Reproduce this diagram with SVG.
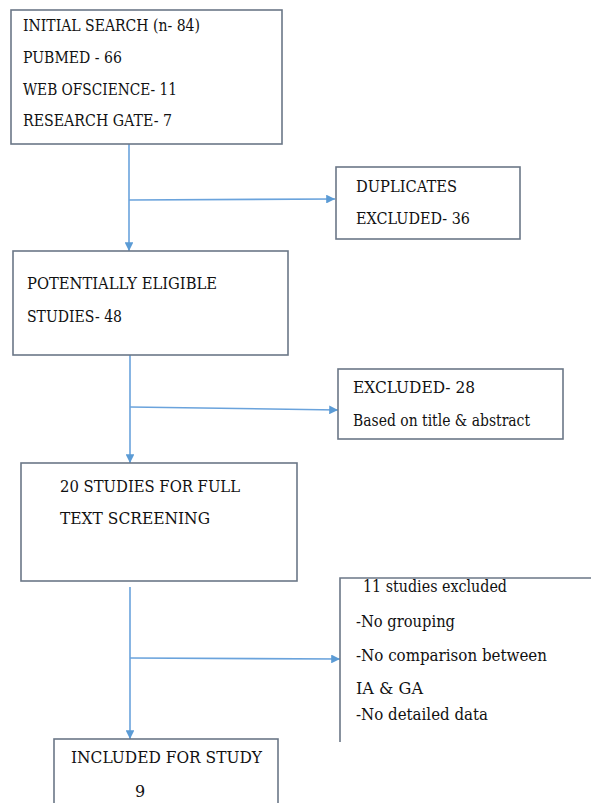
<svg xmlns="http://www.w3.org/2000/svg" width="591" height="803" viewBox="0 0 591 803">
<style>
.box{fill:#fff;stroke:#6b7787;stroke-width:1.6}
text{font-family:'DejaVu Serif','Liberation Serif',serif;font-size:16px;fill:#111}
.c{fill:none;stroke:#6aa3dc;stroke-width:1.6}
</style>
<defs>
<marker id="ah" viewBox="0 0 10 10" refX="10" refY="5" markerWidth="5.5" markerHeight="5.5" orient="auto" markerUnits="strokeWidth">
<path d="M0,0 L10,5 L0,10 z" fill="#5b9bd5"/>
</marker>
</defs>
<rect width="591" height="803" fill="#fff"/>
<g id="connectors">
<path class="c" d="M129,144 V251" marker-end="url(#ah)"/>
<path class="c" d="M129,200 L335,199" marker-end="url(#ah)"/>
<path class="c" d="M130,355 V463" marker-end="url(#ah)"/>
<path class="c" d="M130,407 L338,410" marker-end="url(#ah)"/>
<path class="c" d="M130,587 V739" marker-end="url(#ah)"/>
<path class="c" d="M130,658 L340,659" marker-end="url(#ah)"/>
</g>
<g id="initial-search">
<rect class="box" x="11" y="10" width="271" height="134"/>
<text x="23" y="31" textLength="177" lengthAdjust="spacingAndGlyphs">INITIAL SEARCH (n- 84)</text>
<text x="23" y="63" textLength="99" lengthAdjust="spacingAndGlyphs">PUBMED - 66</text>
<text x="23" y="95" textLength="154" lengthAdjust="spacingAndGlyphs">WEB OFSCIENCE- 11</text>
<text x="23" y="126" textLength="149" lengthAdjust="spacingAndGlyphs">RESEARCH GATE- 7</text>
</g>
<g id="duplicates">
<rect class="box" x="336" y="167" width="184" height="72"/>
<text x="356" y="192" textLength="101" lengthAdjust="spacingAndGlyphs">DUPLICATES</text>
<text x="356" y="224" textLength="114" lengthAdjust="spacingAndGlyphs">EXCLUDED- 36</text>
</g>
<g id="eligible">
<rect class="box" x="13" y="251" width="275" height="104"/>
<text x="27" y="289" textLength="190" lengthAdjust="spacingAndGlyphs">POTENTIALLY ELIGIBLE</text>
<text x="27" y="322" textLength="95" lengthAdjust="spacingAndGlyphs">STUDIES- 48</text>
</g>
<g id="excluded-28">
<rect class="box" x="338" y="369" width="225" height="70"/>
<text x="353" y="393" textLength="122" lengthAdjust="spacingAndGlyphs">EXCLUDED- 28</text>
<text x="353" y="426" textLength="177" lengthAdjust="spacingAndGlyphs">Based on title &amp; abstract</text>
</g>
<g id="full-text">
<rect class="box" x="21" y="463" width="276" height="118"/>
<text x="60" y="492" textLength="180" lengthAdjust="spacingAndGlyphs">20 STUDIES FOR FULL</text>
<text x="60" y="524" textLength="150" lengthAdjust="spacingAndGlyphs">TEXT SCREENING</text>
</g>
<g id="excluded-11">
<path class="box" fill="none" d="M592,578 H340 V742"/>
<text x="363" y="592" textLength="144" lengthAdjust="spacingAndGlyphs">11 studies excluded</text>
<text x="356" y="627" textLength="99" lengthAdjust="spacingAndGlyphs">-No grouping</text>
<text x="356" y="661" textLength="191" lengthAdjust="spacingAndGlyphs">-No comparison between</text>
<text x="356" y="694" textLength="67" lengthAdjust="spacingAndGlyphs">IA &amp; GA</text>
<text x="356" y="720" textLength="132" lengthAdjust="spacingAndGlyphs">-No detailed data</text>
</g>
<g id="included">
<rect class="box" x="54" y="739" width="224" height="80"/>
<text x="71" y="763" textLength="191" lengthAdjust="spacingAndGlyphs">INCLUDED FOR STUDY</text>
<text x="135" y="797">9</text>
</g>
</svg>
